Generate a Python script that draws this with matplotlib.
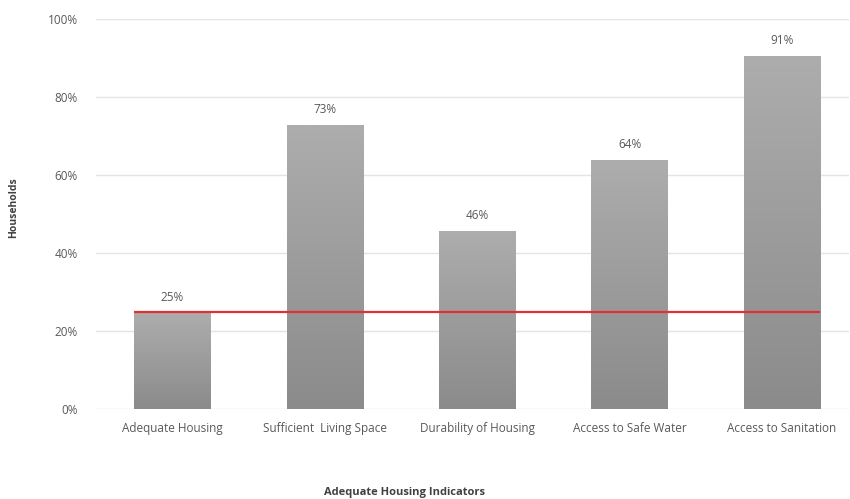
import numpy as np
import matplotlib.pyplot as plt

categories = ["Adequate Housing", "Sufficient  Living Space", "Durability of Housing",
              "Access to Safe Water", "Access to Sanitation"]
values = [24.6, 72.8, 45.7, 63.9, 90.7]
value_labels = ["25%", "73%", "46%", "64%", "91%"]
reference_level = 25.0

plt.rcParams["font.family"] = ["Open Sans", "DejaVu Sans"]

fig = plt.figure(figsize=(8.5, 4.99), dpi=100)
ax = fig.add_axes([96 / 850, 1 - 409.3 / 499, 753 / 850, 390 / 499])

x = np.arange(len(categories))
bars = ax.bar(x, values, width=0.5, color="none", edgecolor="none", zorder=2)

# vertical gray gradient in each bar (light top, dark bottom)
grad = np.linspace(0, 1, 256).reshape(-1, 1)
cmap = plt.matplotlib.colors.LinearSegmentedColormap.from_list("g", ["#8b8b8b", "#adadad"])
for b in bars:
    x0, w, h = b.get_x(), b.get_width(), b.get_height()
    im = ax.imshow(grad, extent=[x0, x0 + w, 0, h], origin="lower", cmap=cmap,
                   aspect="auto", zorder=2)
    im.set_clip_path(b)

for xi, v, lab in zip(x, values, value_labels):
    ax.text(xi, v + 2.3, lab, ha="center", va="bottom", fontsize=8.5, color="#595959")

ax.hlines(reference_level, -0.25, 4.25, color="#e03030", linewidth=1.6, zorder=3)

ax.set_xlim(-0.5, 4.44)
ax.set_ylim(0, 100)
ax.set_yticks(range(0, 101, 20))
ax.set_yticklabels([f"{t}%" for t in range(0, 101, 20)])
ax.set_xticks(x)
ax.set_xticklabels(categories)
ax.tick_params(axis="both", length=0, labelsize=8.5, labelcolor="#595959")
ax.tick_params(axis="y", pad=13)
ax.tick_params(axis="x", pad=9)
ax.grid(axis="y", color="#e4e4e4", linewidth=1, zorder=0)
ax.set_axisbelow(True)
for s in ax.spines.values():
    s.set_visible(False)

fig.text(405 / 850, 1 - 492 / 499, "Adequate Housing Indicators", ha="center", va="center",
         fontsize=8, fontweight="bold", color="#404040")
fig.text(14 / 850, 1 - 208 / 499, "Households", ha="center", va="center", rotation=90,
         fontsize=7.5, fontweight="bold", color="#404040")

fig.savefig("out.png", dpi=100)
